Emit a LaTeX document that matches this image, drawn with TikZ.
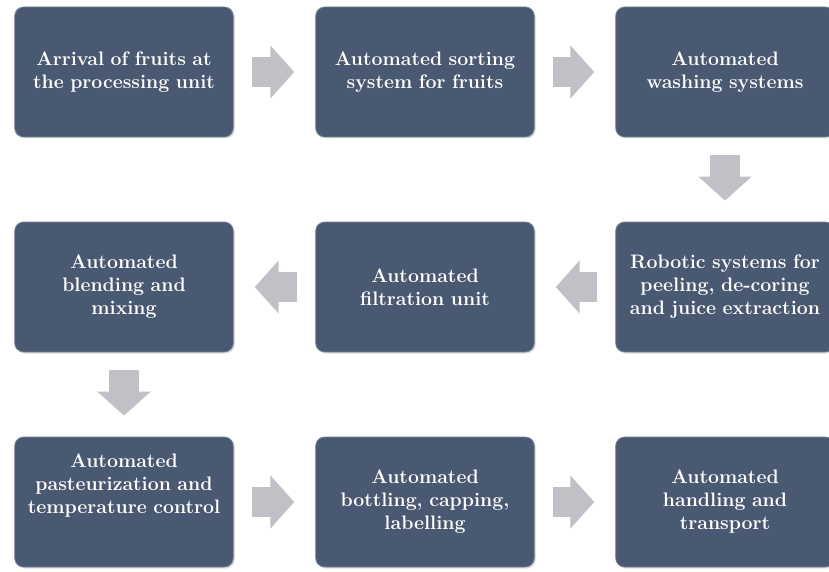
\documentclass[tikz,border=0pt]{standalone}
\usepackage{fontspec}
\usepackage{xcolor}
\usetikzlibrary{arrows.meta,shadows}

\definecolor{boxfill}{RGB}{74,89,114}
\definecolor{boxline}{RGB}{118,130,150}
\definecolor{flowgray}{RGB}{192,192,198}

\begin{document}
\begin{tikzpicture}[x=1pt,y=1pt,node distance=301pt,
    stage/.style={rectangle, rounded corners=9pt, fill=boxfill, draw=boxline, line width=0.8pt,
        minimum width=216pt, minimum height=130pt, text width=212pt, align=center,
        text=white, font=\fontsize{19.5}{23}\selectfont\bfseries,
        drop shadow={shadow xshift=1.5pt, shadow yshift=-1.5pt, opacity=0.25}},
    flow/.style={draw=flowgray, line width=30pt, shorten <=18pt, shorten >=21pt,
        -{Triangle[length=24pt,width=52pt]}},
]
\useasboundingbox (0,0) rectangle (829,-572);
                        \node [stage](1) at (124,-72){Arrival of fruits at\\the processing unit};
                        \node [stage](2) [right of = 1]{Automated sorting\\system for fruits};
                        \node [stage](3) [right of = 2, node distance=300pt]{Automated\\washing systems};

                        \node [stage](4) [below of = 3, node distance=215pt]{Robotic systems for\\peeling, de-coring\\and juice extraction};
                        \node [stage](5) [left of = 4, node distance=300pt]{Automated\\filtration unit};
                        \node [stage](6) [left of = 5]{Automated\\blending and\\mixing};

                        \node [stage](7) [below of = 6, node distance=215pt]{Automated\\pasteurization and\\temperature control\\[13pt]\mbox{}};
                        \node [stage](8) [right of = 7]{Automated\\bottling, capping,\\labelling};
                        \node [stage](9) [right of = 8, node distance=300pt]{Automated\\handling and\\transport};

                        \path
                            (1) edge[flow] (2)
                            (2) edge[flow] (3)
                            (3) edge[flow] (4)
                            (4) edge[flow] (5)
                            (5) edge[flow] (6)
                            (6) edge[flow] (7)
                            (7) edge[flow] (8)
                            (8) edge[flow] (9)
                        ;
\end{tikzpicture}
\end{document}
